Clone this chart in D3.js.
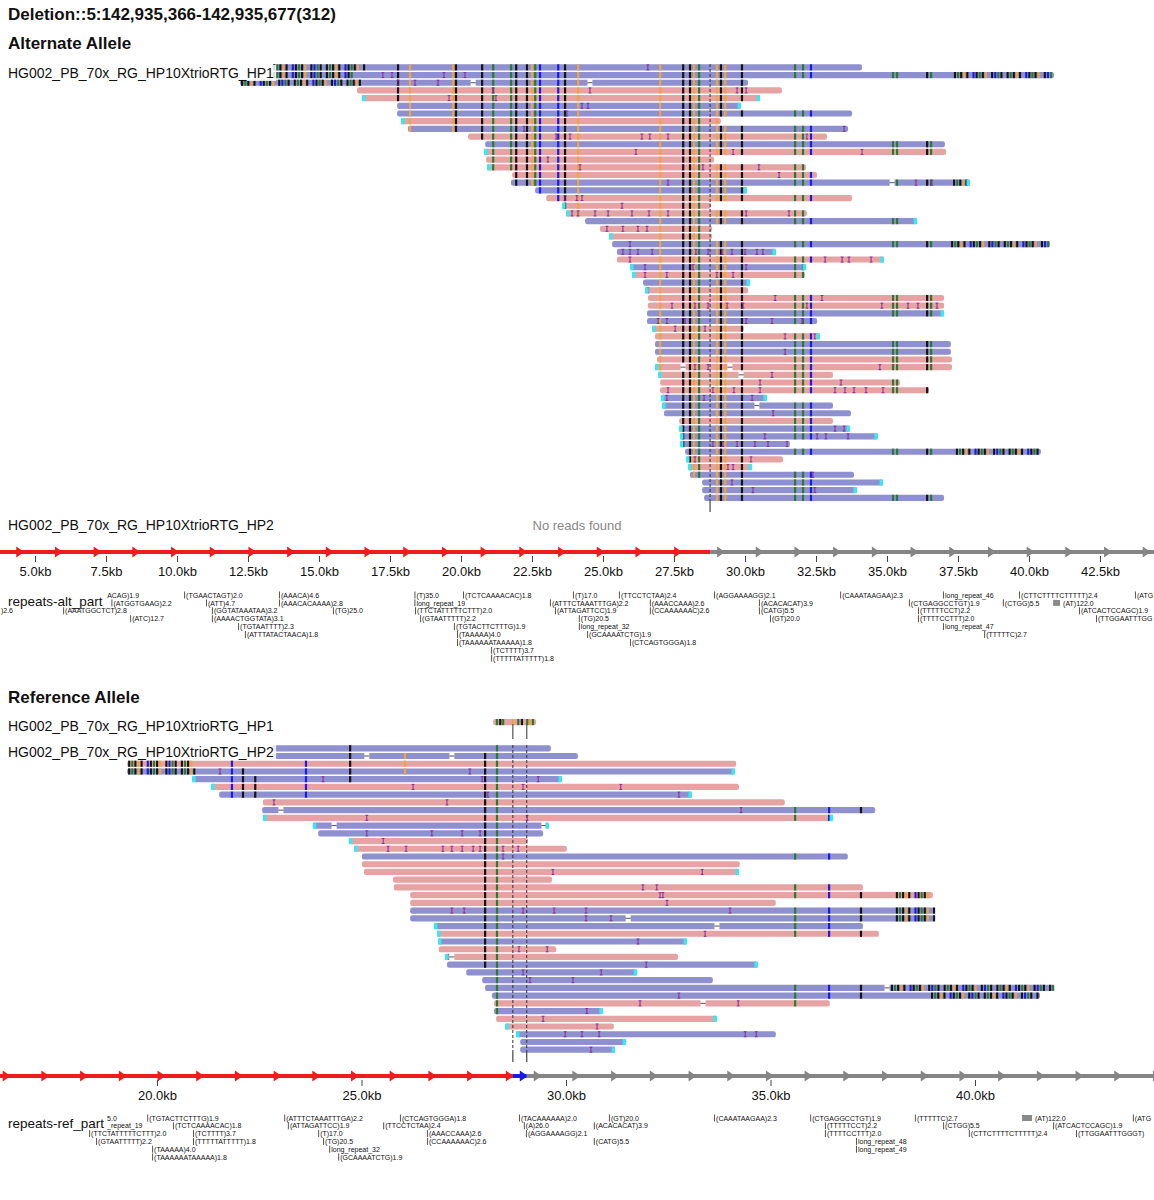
<!DOCTYPE html>
<html>
<head>
<meta charset="utf-8">
<script src="https://cdn.jsdelivr.net/npm/d3@7"></script>
<style>
  body { margin: 0; background: #fff; }
  text { font-family: "Liberation Sans", Arial, Helvetica, sans-serif; }
</style>
</head>
<body>
<svg id="chart" width="1154" height="1200"></svg>
<script>
// ---- data (positions in kb, each track in its own allele coordinates) ----
const ALT_TICKS = [5, 7.5, 10, 12.5, 15, 17.5, 20, 22.5, 25, 27.5, 30, 32.5, 35, 37.5, 40, 42.5];
const REF_TICKS = [20, 25, 30, 35, 40];

// [start, end, strand (b = forward / p = reverse), adapter caps]
const altReads = [
  [13.35, 34.12, "b", ""], [13.35, 40.88, "b", ""], [12.22, 30.11, "b", ""], [16.34, 31.30, "p", ""],
  [16.51, 30.53, "p", "LR"], [17.75, 29.86, "b", "R"], [17.75, 33.77, "b", ""], [17.89, 29.15, "p", "L"],
  [18.13, 33.63, "b", ""], [20.25, 32.89, "p", ""], [20.85, 37.04, "b", ""], [20.81, 37.08, "p", "L"],
  [20.88, 28.91, "p", ""], [20.92, 32.15, "p", "L"], [21.80, 32.54, "p", ""], [21.76, 37.92, "b", "R"],
  [22.61, 30.07, "b", "R"], [23.00, 33.77, "p", ""], [23.56, 28.80, "p", "L"], [23.70, 32.18, "p", "L"],
  [24.37, 36.06, "b", "R"], [24.89, 28.84, "p", ""], [25.21, 28.84, "p", "L"], [25.32, 40.74, "b", ""],
  [25.49, 31.09, "b", "R"], [25.49, 34.89, "p", "R"], [25.95, 32.15, "b", "LR"], [26.02, 32.11, "p", "L"],
  [26.41, 30.18, "b", "R"], [26.48, 30.11, "p", "L"], [26.58, 37.01, "p", ""], [26.58, 37.01, "p", ""],
  [26.55, 37.01, "b", "R"], [26.55, 32.54, "b", ""], [26.73, 29.96, "p", "L"], [26.83, 32.64, "p", "R"],
  [26.83, 37.25, "b", ""], [26.83, 37.25, "b", ""], [26.90, 37.29, "p", ""], [26.83, 37.29, "p", "L"],
  [26.94, 33.10, "p", "L"], [27.01, 35.46, "p", ""], [27.01, 36.48, "p", ""], [27.04, 30.77, "b", "LR"],
  [27.08, 33.10, "b", "L"], [27.15, 33.73, "b", ""], [27.68, 33.10, "p", ""], [27.68, 33.70, "b", "LR"],
  [27.71, 34.68, "b", "LR"], [27.71, 31.58, "b", "L"], [27.89, 40.42, "b", ""], [27.92, 31.34, "p", "L"],
  [27.99, 30.25, "p", "LR"], [28.06, 33.84, "b", ""], [28.49, 34.86, "b", "R"], [28.49, 33.94, "b", "R"],
  [28.56, 37.01, "b", ""]
];
// soft-clipped ends [row, from, to]
const altClips = [[0, 13.35, 16.62], [1, 13.35, 16.27], [2, 12.22, 16.62], [1, 37.32, 40.88],
  [15, 37.29, 37.82], [23, 37.22, 40.74], [50, 37.39, 40.42]];
// mismatch columns [pos, base colour]
const altVariants = [
  [17.78, "k"], [18.20, "o"], [19.72, "o"], [19.82, "k"], [20.74, "k"], [21.13, "g"], [21.76, "g"],
  [21.94, "k"], [22.32, "k"], [22.50, "o"], [22.61, "g"], [22.78, "u"], [23.42, "u"], [23.66, "k"],
  [24.12, "o"], [27.01, "o"], [27.82, "k"], [28.06, "k"], [28.20, "o"], [28.38, "g"], [29.01, "o"],
  [29.15, "k"], [29.30, "o"], [29.89, "k"], [31.76, "g"], [32.04, "g"], [32.32, "u"], [35.21, "g"],
  [35.35, "g"], [36.41, "k"], [36.55, "g"]
];
// insertions [row, pos]
const altInsertions = [
  [0, 26.58], [1, 17.25], [1, 17.57], [1, 19.40], [1, 20.14], [2, 17.78], [2, 18.38], [2, 19.19],
  [3, 21.13], [3, 24.54], [3, 29.72], [3, 30.04], [4, 19.58], [4, 21.23], [5, 24.26], [5, 24.47],
  [6, 23.73], [8, 22.22], [8, 33.49], [9, 23.35], [9, 23.84], [9, 26.37], [9, 26.65], [9, 27.29],
  [9, 32.18], [11, 26.16], [11, 29.58], [11, 34.12], [12, 23.06], [13, 24.19], [13, 28.52], [13, 30.49],
  [14, 31.20], [15, 27.29], [15, 36.02], [15, 36.58], [17, 23.66], [17, 24.08], [17, 24.26], [18, 25.67],
  [19, 23.91], [19, 24.12], [19, 24.72], [19, 25.18], [19, 26.02], [19, 26.62], [19, 27.29], [19, 30.04],
  [19, 31.55], [21, 25.14], [21, 25.70], [21, 26.23], [21, 26.55], [23, 25.95], [24, 25.70], [24, 25.95],
  [24, 26.23], [24, 26.73], [24, 28.27], [24, 28.70], [24, 29.19], [24, 29.54], [24, 30.00], [24, 30.42],
  [24, 30.63], [25, 25.95], [25, 32.82], [25, 33.42], [25, 33.66], [25, 34.44], [26, 26.48], [26, 28.17],
  [26, 30.04], [27, 26.48], [27, 27.25], [27, 29.01], [27, 29.58], [29, 26.58], [30, 31.06], [30, 32.71],
  [31, 27.43], [31, 28.24], [31, 28.70], [31, 29.37], [31, 29.93], [31, 32.18], [31, 34.82], [31, 35.74],
  [31, 36.09], [31, 36.76], [32, 28.38], [33, 26.94], [33, 27.25], [33, 27.89], [33, 30.04], [33, 30.95],
  [33, 32.01], [34, 27.54], [34, 28.59], [35, 31.41], [35, 32.46], [37, 31.41], [39, 28.24], [39, 28.70],
  [39, 34.75], [40, 30.95], [41, 30.53], [41, 33.38], [42, 27.29], [42, 28.87], [42, 29.61], [42, 30.53],
  [42, 33.17], [42, 33.52], [42, 33.84], [42, 34.26], [42, 34.86], [43, 27.25], [43, 28.56], [43, 30.25],
  [45, 30.99], [47, 33.17], [47, 33.49], [48, 30.70], [48, 32.54], [48, 32.85], [48, 33.63], [49, 28.87],
  [49, 29.22], [49, 29.72], [49, 30.35], [49, 30.81], [49, 31.48], [51, 28.24], [51, 30.21], [52, 29.40],
  [52, 29.58], [53, 32.39], [54, 29.54], [55, 30.28], [55, 32.46]
];
// deletions inside reads [row, pos]
const altGaps = [[2, 20.43], [2, 24.54], [15, 35.18], [39, 27.82], [39, 29.47], [40, 29.86], [44, 30.42]];
const altBreakpoints = [28.77];

const refHp1Reads = [[28.22, 29.27, "p", ""]];
const refHp1Variants = [[28.31, "g"], [28.39, "k"], [28.46, "g"], [28.70, "o"], [28.83, "g"], [28.92, "k"],
  [29.05, "g"], [29.12, "o"], [29.19, "g"], [29.24, "m"]];

const refReads = [
  [22.81, 29.63, "b", ""], [22.81, 30.29, "b", ""], [19.27, 34.16, "p", ""], [19.27, 34.13, "b", "R"],
  [20.86, 29.90, "b", "LR"], [21.32, 34.23, "p", "L"], [21.52, 33.08, "b", "R"], [22.59, 35.35, "p", ""],
  [22.57, 37.56, "b", ""], [22.59, 36.53, "p", "LR"], [23.81, 29.58, "b", "LR"], [23.94, 29.44, "b", ""],
  [24.69, 29.07, "p", "L"], [24.82, 30.02, "p", "L"], [25.01, 36.89, "b", ""], [25.01, 34.25, "p", ""],
  [25.06, 34.23, "p", "R"], [25.77, 29.66, "p", ""], [25.79, 37.26, "p", ""], [26.19, 38.97, "p", ""],
  [26.19, 35.13, "p", ""], [26.19, 39.02, "b", ""], [26.19, 39.02, "b", ""], [26.77, 37.26, "b", "L"],
  [26.85, 37.65, "p", "L"], [26.87, 32.96, "b", "LR"], [26.89, 29.76, "p", ""], [27.04, 32.74, "p", "L"],
  [27.09, 34.69, "b", "R"], [27.56, 31.74, "b", "R"], [27.95, 33.59, "b", ""], [28.02, 41.93, "b", ""],
  [28.19, 41.59, "b", ""], [28.24, 36.45, "p", ""], [28.24, 30.90, "b", "R"], [28.29, 33.69, "p", "R"],
  [28.51, 31.17, "p", "L"], [28.78, 35.13, "b", "L"], [28.88, 31.47, "b", "R"], [28.88, 31.20, "b", "R"]
];
const refClips = [[2, 19.27, 20.86], [3, 19.27, 21.00], [19, 38.04, 38.97], [21, 38.04, 39.02],
  [22, 38.04, 39.02], [31, 37.92, 41.93], [32, 38.90, 41.59]];
// [pos, base colour, first row, last row]
const refVariants = [
  [21.83, "u", 2, 6], [22.10, "k", 3, 6], [22.40, "k", 4, 6], [23.64, "u", 2, 6], [24.72, "k", 0, 4],
  [26.06, "o", 1, 3], [28.02, "k", 1, 28], [28.31, "g", 0, 39], [35.60, "g", 0, 39], [36.43, "u", 0, 39],
  [37.21, "k", 0, 39]
];
const refInsertions = [
  [3, 21.54], [3, 27.65], [4, 24.06], [4, 27.95], [4, 29.32], [5, 26.26], [5, 28.95], [5, 31.34],
  [6, 28.09], [6, 32.76], [7, 22.86], [7, 27.09], [8, 34.28], [9, 25.13], [9, 29.05], [11, 25.13],
  [11, 26.72], [11, 27.46], [11, 27.90], [12, 25.53], [13, 25.65], [13, 26.09], [13, 26.99], [13, 27.21],
  [13, 27.46], [13, 27.73], [13, 27.90], [13, 28.46], [13, 28.83], [14, 28.46], [16, 29.68], [16, 33.33],
  [18, 31.88], [18, 32.22], [19, 32.30], [19, 32.37], [20, 32.47], [21, 27.21], [21, 27.51], [21, 28.95],
  [21, 29.71], [21, 30.49], [21, 34.01], [22, 30.49], [22, 31.10], [24, 33.40], [25, 31.76], [26, 28.85],
  [26, 29.54], [27, 27.11], [28, 31.96], [29, 28.95], [29, 30.86], [30, 29.12], [30, 30.17], [32, 32.76],
  [33, 31.81], [33, 34.21], [34, 30.51], [35, 29.44], [36, 30.76], [37, 29.98], [37, 30.39], [37, 30.81],
  [37, 34.38], [37, 34.65], [39, 30.61]
];
const refGaps = [[1, 25.13], [1, 27.21], [8, 23.03], [10, 24.33], [10, 29.46], [22, 31.52], [23, 33.69],
  [27, 27.21], [31, 37.85], [33, 33.35]];
const refBreakpoints = [28.70, 29.04];

// genome strip segments [from, to, colour]
const altSegments = [[2.73, 28.77, "red"], [28.77, 45.0, "grey"]];
const refSegments = [[15.11, 28.70, "red"], [28.70, 29.04, "blue"], [29.04, 45.0, "grey"]];

// tandem repeats [pos, row, label, span]
const altRepeats = [
  [7.69, 1, "(ATGGTGAAG)2.2"], [5.99, 2, "(AAATGGCTCT)2.8"],
  [8.35, 3, "(ATC)12.7"], [10.25, 0, "(TGAACTAGT)2.0"], [11.02, 1, "(ATT)4.7"], [11.23, 2, "(GGTATAAATAA)3.2"],
  [11.23, 3, "(AAAACTGGTATA)3.1"], [12.15, 4, "(TGTAATTTT)2.3"], [12.39, 5, "(ATTTATACTAACA)1.8"],
  [13.59, 0, "(AAACA)4.6"], [13.59, 1, "(AAACACAAAA)2.8"], [15.49, 2, "(TG)25.0"], [18.36, 0, "(T)35.0"],
  [18.36, 1, "long_repeat_19"], [18.38, 2, "(TTCTATTTTTCTTT)2.0"], [18.56, 3, "(GTAATTTTT)2.2"],
  [19.75, 4, "(TGTACTTCTTTG)1.9"], [19.86, 5, "(TAAAAA)4.0"], [19.86, 6, "(TAAAAAATAAAAA)1.8"],
  [21.06, 7, "(TCTTTT)3.7"], [21.06, 8, "(TTTTTATTTTT)1.8"], [20.07, 0, "(TCTCAAAACAC)1.8"],
  [23.13, 1, "(ATTTCTAAATTTGA)2.2"], [23.31, 2, "(ATTAGATTCC)1.9"], [23.94, 0, "(T)17.0"],
  [25.56, 0, "(TTCCTCTAA)2.4"], [26.65, 1, "(AAACCAAA)2.6"], [26.65, 2, "(CCAAAAAAC)2.6"],
  [24.15, 3, "(TG)20.5"], [24.15, 4, "long_repeat_32"], [24.44, 5, "(GCAAAATCTG)1.9"],
  [25.95, 6, "(CTCAGTGGGA)1.8"], [28.91, 0, "(AGGAAAAGG)2.1"], [30.49, 1, "(ACACACAT)3.9"],
  [30.49, 2, "(CATG)5.5"], [30.88, 3, "(GT)20.0"], [33.35, 0, "(CAAATAAGAA)2.3"], [36.97, 0, "long_repeat_46"],
  [35.77, 1, "(CTGAGGCCTGT)1.9"], [36.09, 2, "(TTTTTCCT)2.2"], [36.09, 3, "(TTTTCCTTT)2.0"],
  [36.97, 4, "long_repeat_47"], [38.42, 5, "(TTTTTC)2.7"], [39.65, 0, "(CTTCTTTTCTTTTT)2.4"],
  [39.08, 1, "(CTGG)5.5"], [40.85, 1, "(AT)122.0", 0.244], [41.76, 2, "(ATCACTCCAGC)1.9"],
  [42.36, 3, "(TTGGAATTTGG"], [43.73, 0, "(ATG"]
];
// visible tails of repeat labels hidden behind the track title [pos, row, text]
const altRepeatTails = [[7.54, 0, "ACAG)1.9"], [3.80, 2, ")2.6"]];
const refRepeats = [
  [19.76, 0, "(TGTACTTCTTTG)1.9"], [20.39, 1, "(TCTCAAAACAC)1.8"],
  [18.34, 2, "(TTCTATTTTTCTTT)2.0"], [18.51, 3, "(GTAATTTTT)2.2"],
  [20.88, 2, "(TCTTTT)3.7"], [20.88, 3, "(TTTTTATTTTT)1.8"], [19.88, 4, "(TAAAAA)4.0"],
  [19.88, 5, "(TAAAAAATAAAAA)1.8"], [23.11, 0, "(ATTTCTAAATTTGA)2.2"], [23.20, 1, "(ATTAGATTCC)1.9"],
  [23.94, 2, "(T)17.0"], [24.06, 3, "(TG)20.5"], [24.21, 4, "long_repeat_32"], [24.43, 5, "(GCAAAATCTG)1.9"],
  [25.94, 0, "(CTCAGTGGGA)1.8"], [25.53, 1, "(TTCCTCTAA)2.4"], [26.60, 2, "(AAACCAAA)2.6"],
  [26.60, 3, "(CCAAAAAAC)2.6"], [28.85, 0, "(TACAAAAAA)2.0"], [28.97, 1, "(A)26.0"],
  [29.02, 2, "(AGGAAAAGG)2.1"], [31.05, 0, "(GT)20.0"], [30.68, 1, "(ACACACAT)3.9"], [30.68, 3, "(CATG)5.5"],
  [33.62, 0, "(CAAATAAGAA)2.3"], [35.97, 0, "(CTGAGGCCTGT)1.9"], [36.33, 1, "(TTTTTCCT)2.2"],
  [36.33, 2, "(TTTTCCTTT)2.0"], [37.09, 3, "long_repeat_48"], [37.09, 4, "long_repeat_49"],
  [38.53, 0, "(TTTTTC)2.7"], [39.22, 1, "(CTGG)5.5"], [39.85, 2, "(CTTCTTTTCTTTTT)2.4"],
  [41.15, 0, "(AT)122.0", 0.244], [41.91, 1, "(ATCACTCCAGC)1.9"], [42.47, 2, "(TTGGAATTTGGGT)"],
  [43.86, 0, "(ATG"]
];
const refRepeatTails = [[18.78, 0, "5.0"], [18.78, 1, "_repeat_19"]];

// ---- styling ----
const BASE = { k: "#141414", g: "#2c7a30", o: "#eea53c", u: "#1b1be2", m: "#8a2c9a" };
const STRAND = { b: "#8e90cf", p: "#e6a3a3" };
const CAP = "#3de6f0";
const SEG = { red: "#ee1c1c", grey: "#858585", blue: "#1a1ae6" };
const CLIP_PATTERN = ["k", "g", "k", "o", "k", null, "u", "k", "g", "k", "o", null, "k", "u", "g", "k", null];

const W = 1154;
const svg = d3.select("#chart");

const altX = d3.scaleLinear().domain([5, 42.5]).range([35, 1100]);
const refX = d3.scaleLinear().domain([20, 40]).range([157, 975]);

const altY = d3.scaleBand().domain(d3.range(altReads.length)).range([64.3, 64.3 + 7.66 * altReads.length]).paddingInner(0.2);
const refY = d3.scaleBand().domain(d3.range(refReads.length)).range([745.2, 745.2 + 7.69 * refReads.length]).paddingInner(0.2);
const refHp1Y = d3.scaleBand().domain([0]).range([718.2, 725.9]).paddingInner(0.2);

function drawReads(g, reads, x, y, clips, variants, insertions, gaps) {
  const h = y.bandwidth();
  const row = g.selectAll("g.read").data(reads).join("g")
    .attr("class", "read")
    .attr("transform", (d, i) => `translate(0,${y(i)})`);

  row.append("rect")
    .attr("x", d => x(d[0]))
    .attr("width", d => x(d[1]) - x(d[0]))
    .attr("height", h)
    .attr("rx", 2.2)
    .attr("fill", d => STRAND[d[2]]);

  row.each(function (d, i) {
    const r = d3.select(this);
    // soft clips
    clips.filter(c => c[0] === i).forEach(c => {
      const ticks = [];
      let k = 0;
      for (let px = x(c[1]) + 1; px < x(c[2]) - 1.5; px += 3.1, k++) {
        const col = CLIP_PATTERN[k % CLIP_PATTERN.length];
        if (col) ticks.push([px, col]);
      }
      r.selectAll(null).data(ticks).join("rect")
        .attr("x", t => t[0]).attr("width", 2.1).attr("height", h)
        .attr("fill", t => BASE[t[1]]);
    });
    // mismatches
    const vs = variants.filter(v => v[0] > d[0] + 0.05 && v[0] < d[1] - 0.05 &&
      (v[2] === undefined || (i >= v[2] && i <= v[3])));
    r.selectAll(null).data(vs).join("rect")
      .attr("x", v => x(v[0]) - 1).attr("width", 2.2).attr("height", h)
      .attr("fill", v => BASE[v[1]]);
    // insertions
    const ins = insertions.filter(n => n[0] === i);
    r.selectAll(null).data(ins).join("path")
      .attr("d", n => {
        const px = x(n[1]);
        return `M${px - 1.4},0.6H${px + 1.4}M${px},0.6V${h - 0.6}M${px - 1.4},${h - 0.6}H${px + 1.4}`;
      })
      .attr("fill", "none").attr("stroke", BASE.m).attr("stroke-width", 1);
    // deletions
    const gs = gaps.filter(n => n[0] === i);
    r.selectAll(null).data(gs).join("rect")
      .attr("x", n => x(n[1]) - 2.5).attr("width", 5).attr("y", -0.5).attr("height", h + 1)
      .attr("fill", "#fff");
    r.selectAll(null).data(gs).join("line")
      .attr("x1", n => x(n[1]) - 2.5).attr("x2", n => x(n[1]) + 2.5)
      .attr("y1", h / 2).attr("y2", h / 2)
      .attr("stroke", "#555").attr("stroke-width", 1);
    // adapter caps
    if (d[3].includes("L")) r.append("rect").attr("x", x(d[0])).attr("width", 3.5).attr("height", h).attr("fill", CAP);
    if (d[3].includes("R")) r.append("rect").attr("x", x(d[1]) - 3.5).attr("width", 3.5).attr("height", h).attr("fill", CAP);
  });
}

function drawBreaks(g, pos, x, y0, y1, y2) {
  pos.forEach(p => {
    g.append("line").attr("x1", x(p)).attr("x2", x(p)).attr("y1", y0).attr("y2", y1)
      .attr("stroke", "#333").attr("stroke-width", 1).attr("stroke-dasharray", "3,2");
    g.append("line").attr("x1", x(p)).attr("x2", x(p)).attr("y1", y1).attr("y2", y2)
      .attr("stroke", "#444").attr("stroke-width", 1.2);
  });
}

function label(g, txt, x, y, bg) {
  const t = g.append("text").attr("x", x).attr("y", y).attr("font-size", 14).attr("fill", "#111").text(txt);
  if (bg) {
    const b = t.node().getBBox();
    g.insert("rect", () => t.node())
      .attr("x", b.x - 2).attr("y", b.y).attr("width", b.width + 4).attr("height", b.height)
      .attr("fill", "#fff").attr("opacity", 0.85);
  }
  return t;
}

function drawStrip(g, segs, x, y, ticks, axisY) {
  segs.forEach(s => {
    const sx = x(s[0]), ex = Math.min(x(s[1]), W + 10);
    g.append("line").attr("x1", Math.max(sx, -5)).attr("x2", ex).attr("y1", y).attr("y2", y)
      .attr("stroke", SEG[s[2]]).attr("stroke-width", 4);
    const arrows = [];
    for (let p = sx + 15; p <= ex + 3 && p < W + 10; p += 38.7) if (p > -10) arrows.push(p);
    g.selectAll(null).data(arrows).join("path")
      .attr("d", p => `M${p - 8},${y - 5.5}L${p},${y}L${p - 8},${y + 5.5}Z`)
      .attr("fill", SEG[s[2]]);
  });
  const ax = g.append("g").attr("transform", `translate(0,${axisY})`)
    .call(d3.axisBottom(x).tickValues(ticks).tickFormat(d => d.toFixed(1) + "kb").tickSize(6).tickPadding(5));
  ax.select(".domain").remove();
  ax.selectAll(".tick line").attr("stroke", "#444");
  ax.selectAll(".tick text").attr("font-size", 13).attr("fill", "#111")
    .attr("font-family", '"Liberation Sans", Arial, sans-serif');
}

function drawRepeats(g, reps, tails, x, rowY, title, titleY) {
  const grp = g.selectAll("g.rep").data(reps).join("g")
    .attr("class", "rep")
    .attr("transform", d => `translate(${x(d[0])},${rowY(d[1])})`);
  grp.append("rect")
    .attr("y", d => d[3] ? -3 : -3.5)
    .attr("width", d => d[3] ? x(d[0] + d[3]) - x(d[0]) : 1)
    .attr("height", d => d[3] ? 6 : 7)
    .attr("fill", d => d[3] ? "#8a8a8a" : "#555");
  grp.append("text")
    .attr("x", d => d[3] ? x(d[0] + d[3]) - x(d[0]) + 3 : 2)
    .attr("y", 2.6)
    .attr("font-size", 7)
    .attr("fill", "#111")
    .text(d => d[2]);
  g.selectAll("text.tail").data(tails).join("text")
    .attr("class", "tail")
    .attr("x", d => x(d[0])).attr("y", d => rowY(d[1]) + 2.6)
    .attr("font-size", 7).attr("fill", "#111")
    .text(d => d[2]);
  g.append("text").attr("x", 8).attr("y", titleY).attr("font-size", 13.5).attr("fill", "#111").text(title);
}

// ---- titles ----
svg.append("text").attr("x", 8).attr("y", 20).attr("font-size", 17).attr("font-weight", "bold")
  .attr("fill", "#111").text("Deletion::5:142,935,366-142,935,677(312)");
svg.append("text").attr("x", 8).attr("y", 49).attr("font-size", 17).attr("font-weight", "bold")
  .attr("fill", "#111").text("Alternate Allele");
svg.append("text").attr("x", 8).attr("y", 703).attr("font-size", 17).attr("font-weight", "bold")
  .attr("fill", "#111").text("Reference Allele");

// ---- alternate allele ----
const altG = svg.append("g");
drawReads(altG.append("g"), altReads, altX, altY, altClips, altVariants, altInsertions, altGaps);
drawBreaks(altG, altBreakpoints, altX, 64, 500, 512);
label(altG, "HG002_PB_70x_RG_HP10XtrioRTG_HP1", 8, 78, true);
label(altG, "HG002_PB_70x_RG_HP10XtrioRTG_HP2", 8, 530, false);
altG.append("text").attr("x", 577).attr("y", 530).attr("text-anchor", "middle")
  .attr("font-size", 13).attr("fill", "#888").text("No reads found");
drawStrip(svg.append("g"), altSegments, altX, 552, ALT_TICKS, 556);
const altRowY = d3.scaleLinear().domain([0, 1]).range([595, 602.9]);
drawRepeats(svg.append("g"), altRepeats, altRepeatTails, altX, altRowY, "repeats-alt_part", 606);

// ---- reference allele ----
const refG = svg.append("g");
drawReads(refG.append("g"), refHp1Reads, refX, refHp1Y, [], refHp1Variants, [], []);
drawReads(refG.append("g"), refReads, refX, refY, refClips, refVariants, refInsertions, refGaps);
refBreakpoints.forEach(p => {
  refG.append("line").attr("x1", refX(p)).attr("x2", refX(p)).attr("y1", 724).attr("y2", 739)
    .attr("stroke", "#555").attr("stroke-width", 1.2);
});
drawBreaks(refG, refBreakpoints, refX, 745, 1052, 1062);
label(refG, "HG002_PB_70x_RG_HP10XtrioRTG_HP1", 8, 731, true);
label(refG, "HG002_PB_70x_RG_HP10XtrioRTG_HP2", 8, 757, true);
drawStrip(svg.append("g"), refSegments, refX, 1076, REF_TICKS, 1080);
const refRowY = d3.scaleLinear().domain([0, 1]).range([1118, 1125.8]);
drawRepeats(svg.append("g"), refRepeats, refRepeatTails, refX, refRowY, "repeats-ref_part", 1128);
</script>
</body>
</html>
